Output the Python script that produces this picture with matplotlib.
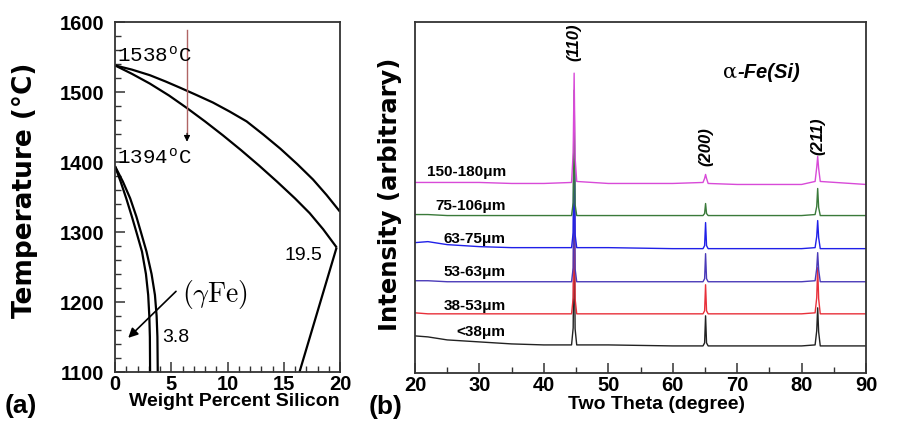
import matplotlib
matplotlib.use('Agg')
import matplotlib.pyplot as plt
from matplotlib.ticker import MultipleLocator

plt.rcParams['font.family'] = ['Liberation Sans', 'DejaVu Sans']
plt.rcParams['mathtext.fontset'] = 'cm'

# ---------------- data: (a) Fe-Si phase diagram ----------------
liquidus_si = [0, 1.5, 3.1, 4.5, 5.8, 7.2, 8.7, 10.2, 11.7, 13.2, 14.7, 16.2, 17.6, 18.8, 20]
liquidus_T = [1538, 1532, 1524, 1515, 1506, 1496, 1485, 1472, 1458, 1439, 1419, 1397, 1375, 1353, 1329]
solidus_si = [0, 1.5, 3.1, 4.8, 6.4, 8.0, 9.6, 11.2, 12.8, 14.4, 16.0, 17.3, 18.5, 19.7]
solidus_T = [1538, 1526, 1512, 1495, 1477, 1458, 1438, 1417, 1395, 1372, 1348, 1327, 1304, 1278]
solvus_si = [19.7, 16.4]
solvus_T = [1278, 1100]
gamma_in_si = [0, 0.5, 1.0, 1.5, 1.9, 2.4, 2.75, 2.95, 3.05, 3.1, 3.12]
gamma_in_T = [1394, 1372, 1348, 1322, 1300, 1272, 1240, 1210, 1180, 1150, 1100]
gamma_out_si = [0, 0.7, 1.35, 1.9, 2.3, 2.8, 3.25, 3.55, 3.7, 3.77, 3.8]
gamma_out_T = [1394, 1372, 1348, 1322, 1300, 1272, 1240, 1210, 1180, 1150, 1100]

# ---------------- data: (b) XRD patterns ----------------
two_theta = [20, 22, 25, 30, 35, 40, 44.3, 44.55, 44.7, 44.85, 45.1, 50, 60,
             64.7, 64.95, 65.1, 65.25, 65.5, 70, 80, 82.1, 82.35, 82.5, 82.65, 82.9, 90]
i_lt38 = [37, 36, 33, 31, 29, 28, 28, 45, 150, 44, 28, 28, 27, 27, 30, 57, 30, 27, 27, 27, 28, 42, 65, 41, 27, 27]
i_38_53 = [60, 59, 59, 59, 59, 59, 59, 75, 200, 74, 59, 59, 59, 59, 62, 88, 62, 59, 59, 59, 60, 75, 105, 74, 59, 59]
i_53_63 = [92, 92, 91, 91, 91, 91, 91, 105, 245, 104, 91, 91, 91, 91, 94, 119, 94, 91, 91, 91, 92, 104, 120, 103, 91, 91]
i_63_75 = [130, 131, 128, 126, 125, 125, 125, 140, 255, 138, 125, 125, 124, 124, 127, 150, 127, 124, 124, 124, 125, 136, 152, 135, 124, 124]
i_75_106 = [158, 158, 157, 157, 157, 157, 157, 170, 282, 168, 157, 157, 157, 157, 159, 169, 159, 157, 157, 157, 158, 166, 184, 165, 157, 157]
i_150_180 = [190, 190, 190, 190, 189, 189, 190, 220, 299, 215, 191, 189, 189, 190, 194, 198, 194, 189, 188, 188, 191, 205, 216, 204, 191, 188]
series_labels = ['<38\u03bcm', '38-53\u03bcm', '53-63\u03bcm', '63-75\u03bcm', '75-106\u03bcm', '150-180\u03bcm']
peak_labels = ['(110)', '(200)', '(211)']
peak_pos = [44.7, 65.1, 82.5]

series = [i_lt38, i_38_53, i_53_63, i_63_75, i_75_106, i_150_180]
colors = ['#222222', '#e8303a', '#4a3ab8', '#2020e8', '#3a7a3a', '#d84ad8']
label_y = [41, 67, 101, 134, 167, 200]
peak_label_y = [330, 226, 236]

fig = plt.figure(figsize=(9.07, 4.40), dpi=100)
axa = fig.add_axes([115/907, 68/440, 225/907, 350/440])
axb = fig.add_axes([415/907, 67/440, 451/907, 351/440])

frame_c = '#333333'
for ax in (axa, axb):
    for sp in ax.spines.values():
        sp.set_linewidth(1.3)
        sp.set_color(frame_c)

# ---- panel (a)
lk = dict(color='black', lw=1.6, solid_capstyle='butt')
axa.plot(liquidus_si, liquidus_T, **lk)
axa.plot(solidus_si, solidus_T, **lk)
axa.plot(solvus_si, solvus_T, **lk)
axa.plot(gamma_in_si, gamma_in_T, **lk)
axa.plot(gamma_out_si, gamma_out_T, **lk)
axa.set_xlim(0, 20)
axa.set_ylim(1100, 1600)
axa.xaxis.set_major_locator(MultipleLocator(5))
axa.xaxis.set_minor_locator(MultipleLocator(1))
axa.yaxis.set_major_locator(MultipleLocator(100))
axa.yaxis.set_minor_locator(MultipleLocator(20))
axa.tick_params(which='both', direction='in', top=False, right=False, color=frame_c)
axa.tick_params(which='major', length=7, width=1.1, labelsize=14.5, pad=2)
axa.tick_params(which='minor', length=4, width=1.0)
axa.tick_params(axis='y', which='major', pad=8)
for lab in axa.get_xticklabels() + axa.get_yticklabels():
    lab.set_fontweight('bold')

# red arrow down
axa.plot([6.4, 6.4], [1589, 1438], color='#b06464', lw=1.0)
axa.annotate('', xy=(6.4, 1425), xytext=(6.4, 1445),
             arrowprops=dict(arrowstyle='-|>', color='black', lw=0.8, mutation_scale=9))
mono = ['Liberation Mono', 'DejaVu Sans Mono']
axa.text(0.15, 1551, '1538$^{\\mathregular{o}}$C', family=mono, fontsize=15, ha='left', va='center')
axa.text(0.15, 1405, '1394$^{\\mathregular{o}}$C', family=mono, fontsize=15, ha='left', va='center')
axa.text(6.0, 1211, r'$(\gamma\mathrm{Fe})$', fontsize=20, ha='left', va='center')
axa.annotate('', xy=(1.0, 1146), xytext=(5.6, 1218),
             arrowprops=dict(arrowstyle='-|>', color='black', lw=1.2, mutation_scale=14))
axa.text(4.2, 1149, '3.8', fontsize=14, ha='left', va='center')
axa.text(15.1, 1266, '19.5', fontsize=14, ha='left', va='center')

# ---- panel (b)
for y, c in zip(series, colors):
    axb.plot(two_theta, y, color=c, lw=1.0)
axb.set_xlim(20, 90)
axb.set_ylim(0, 350)
axb.xaxis.set_major_locator(MultipleLocator(10))
axb.xaxis.set_minor_locator(MultipleLocator(5))
axb.set_yticks([])
axb.tick_params(which='both', direction='in', top=False, right=False, color=frame_c)
axb.tick_params(which='major', length=7, width=1.1, labelsize=14.5, pad=2)
axb.tick_params(which='minor', length=4, width=1.0)
for lab in axb.get_xticklabels():
    lab.set_fontweight('bold')

for lab, ly in zip(series_labels, label_y):
    axb.text(34.1, ly, lab, fontsize=11, fontweight='bold', ha='right', va='center')
for lab, px, py in zip(peak_labels, peak_pos, peak_label_y):
    axb.text(px, py, lab, fontsize=12, fontweight='bold', style='italic',
             rotation=90, ha='center', va='center')
axb.text(67.8, 300, '\u03b1', family=['DejaVu Serif'], fontsize=15, ha='left', va='center')
axb.text(70.0, 300, '-Fe(Si)', fontsize=14.5, fontweight='bold', style='italic', ha='left', va='center')

# ---- labels
fig.text(25/907, 1 - 190/440, 'Temperature (\u00b0C)', rotation=90, fontsize=19,
         family=['DejaVu Sans'], fontweight='bold', ha='center', va='center')
fig.text(234/907, 1 - 401/440, 'Weight Percent Silicon', fontsize=14, fontweight='bold',
         ha='center', va='center')
fig.text(21/907, 1 - 406/440, '(a)', fontsize=19, fontweight='bold', ha='center', va='center')
fig.text(390/907, 1 - 194/440, 'Intensity (arbitrary)', rotation=90, fontsize=17.5,
         family=['DejaVu Sans'], fontweight='bold', ha='center', va='center')
fig.text(656/907, 1 - 404/440, 'Two Theta (degree)', fontsize=14, fontweight='bold',
         ha='center', va='center')
fig.text(386/907, 1 - 407/440, '(b)', fontsize=19, fontweight='bold', ha='center', va='center')

fig.savefig('out.png', dpi=100)
